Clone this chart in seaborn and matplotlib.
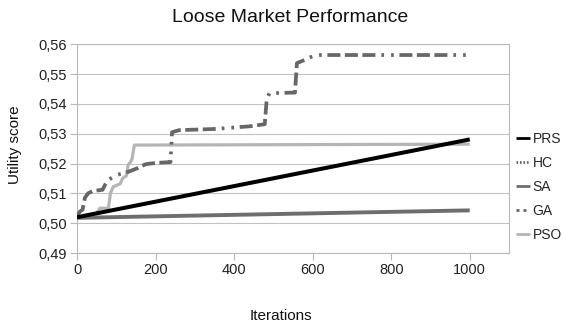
import seaborn as sns
import matplotlib.pyplot as plt
from matplotlib.lines import Line2D
from matplotlib.ticker import FuncFormatter

# ---------------- data ----------------
series_names = ["PRS", "HC", "SA", "GA", "PSO"]

prs_iter = [0, 1000]
prs_score = [0.5020, 0.5281]

sa_iter = [0, 1000]
sa_score = [0.5018, 0.5043]

hc_iter = [0, 8, 14, 20, 28, 40, 65, 72, 80, 95, 110, 130, 155, 175, 200, 238,
           242, 260, 350, 440, 478, 483, 490, 555, 560, 575, 600, 620, 1000]
hc_score = [0.5025, 0.5040, 0.5045, 0.5085, 0.5100, 0.5108, 0.5112, 0.5130,
            0.5145, 0.5158, 0.5165, 0.5172, 0.5185, 0.5198, 0.5202, 0.5205,
            0.5305, 0.5312, 0.5316, 0.5325, 0.5332, 0.5415, 0.5436, 0.5438,
            0.5537, 0.5545, 0.5560, 0.5564, 0.5564]

# GA lies on top of HC in the picture (HC gives the dashes, GA the dots)
ga_iter = list(hc_iter)
ga_score = list(hc_score)

pso_iter = [0, 50, 58, 80, 85, 92, 110, 116, 126, 130, 136, 140, 146, 1000]
pso_score = [0.5020, 0.5034, 0.5050, 0.5050, 0.5100, 0.5122, 0.5132, 0.5150,
             0.5160, 0.5195, 0.5205, 0.5215, 0.5262, 0.5265]

y_ticks = [0.49, 0.50, 0.51, 0.52, 0.53, 0.54, 0.55, 0.56]
x_ticks = [0, 200, 400, 600, 800, 1000]

# ---------------- style ----------------
sns.set_theme(style="white")
plt.rcParams["font.family"] = ["Liberation Sans", "DejaVu Sans"]
plt.rcParams["lines.scale_dashes"] = False

c_prs = "#000000"
c_dark = "#676767"
c_sa = "#6e6e6e"
c_pso = "#b5b5b5"
c_frame = "#b8b8b8"

fig = plt.figure(figsize=(5.63, 3.24), dpi=100)
ax = fig.add_axes([0.1368, 0.2191, 0.7673, 0.6442])

hc_dash = (0, (9.36, 3.24, 9.36, 3.24, 9.36, 17.28))
ga_dot = (12.96, (1.94, 5.04, 1.94, 42.92))

common = dict(ax=ax, sort=False, estimator=None, legend=False,
              solid_capstyle="butt")
sns.lineplot(x=pso_iter, y=pso_score, color=c_pso, linewidth=2.3, zorder=2, **common)
sns.lineplot(x=sa_iter, y=sa_score, color=c_sa, linewidth=2.8, zorder=3, **common)
sns.lineplot(x=hc_iter, y=hc_score, color=c_dark, linewidth=2.7,
             linestyle=hc_dash, zorder=4, **common)
sns.lineplot(x=ga_iter, y=ga_score, color=c_dark, linewidth=2.7,
             linestyle=ga_dot, zorder=5, **common)
sns.lineplot(x=prs_iter, y=prs_score, color=c_prs, linewidth=2.9, zorder=6, **common)

# axes
ax.set_xlim(0, 1100)
ax.set_ylim(0.49, 0.56)
ax.set_xticks(x_ticks)
ax.set_yticks(y_ticks)
ax.yaxis.set_major_formatter(FuncFormatter(lambda v, _: f"{v:.2f}".replace(".", ",")))
ax.grid(axis="y", color="#c2c2c2", linewidth=0.8)
ax.grid(axis="x", visible=False)
ax.set_axisbelow(True)
for sp in ax.spines.values():
    sp.set_color(c_frame)
    sp.set_linewidth(0.8)
ax.tick_params(axis="both", which="major", length=5, width=0.8, color=c_frame,
               labelsize=10.5, labelcolor="#222222", pad=2, left=True, bottom=True)

ax.set_xlabel("Iterations", fontsize=11, color="#111111")
ax.xaxis.set_label_coords(0.472, -0.268)
ax.set_ylabel("Utility score", fontsize=11, color="#111111")
ax.yaxis.set_label_coords(-0.128, 0.5175)

fig.text(0.515, 1 - 17.6 / 324, "Loose Market Performance", ha="center",
         va="center", fontsize=14, color="#111111")

# legend
handles = [
    Line2D([], [], color=c_prs, linewidth=2.0, solid_capstyle="butt"),
    Line2D([], [], color=c_dark, linewidth=2.0, linestyle=(0, (1.2, 1.3))),
    Line2D([], [], color=c_sa, linewidth=2.0, solid_capstyle="butt"),
    Line2D([], [], color=c_dark, linewidth=2.0, linestyle=(0, (2.16, 2.88))),
    Line2D([], [], color=c_pso, linewidth=2.0, solid_capstyle="butt"),
]
fig.legend(handles, series_names, loc="center left",
           bbox_to_anchor=(516 / 563, 1 - 187 / 324), frameon=False,
           fontsize=10, handlelength=1.0, handletextpad=0.2,
           labelspacing=0.72, borderpad=0, borderaxespad=0)

fig.savefig("out.png", dpi=100)
